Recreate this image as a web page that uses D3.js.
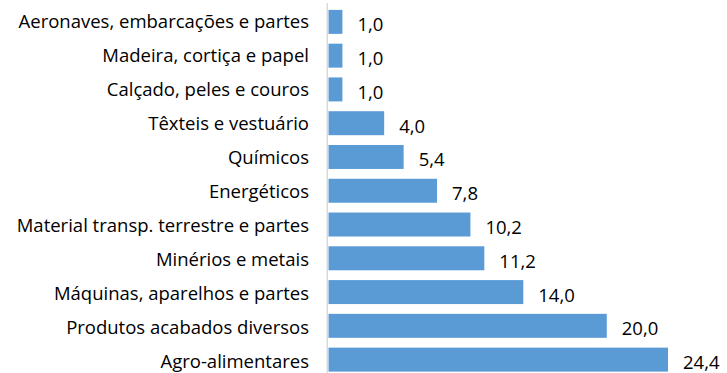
<!DOCTYPE html>
<html>
<head>
<meta charset="utf-8">
<script src="https://cdn.jsdelivr.net/npm/d3@7"></script>
<style>
  html, body { margin: 0; padding: 0; background: #fff; }
  svg text { font-family: "Open Sans", "Liberation Sans", sans-serif; fill: #000; }
</style>
</head>
<body>
<svg id="chart" width="727" height="373"></svg>
<script>
// Categories, top to bottom
const categories = [
  "Aeronaves, embarcações e partes",
  "Madeira, cortiça e papel",
  "Calçado, peles e couros",
  "Têxteis e vestuário",
  "Químicos",
  "Energéticos",
  "Material transp. terrestre e partes",
  "Minérios e metais",
  "Máquinas, aparelhos e partes",
  "Produtos acabados diversos",
  "Agro-alimentares"
];
const values = [1.0, 1.0, 1.0, 4.0, 5.4, 7.8, 10.2, 11.2, 14.0, 20.0, 24.4];

const svg = d3.select("#chart");
const x0 = 328.5;
const x = d3.scaleLinear().domain([0, 24.4]).range([x0, 668]);
const y = d3.scaleBand().domain(categories).range([5, 376.5]).paddingInner(0.29).paddingOuter(0.145);
// category labels sit on their own evenly spaced baselines
const yLabel = d3.scalePoint().domain(categories).range([27.5, 368]);

const fmt = v => d3.format(".1f")(v).replace(".", ",");
const fontSize = 18.5;

svg.selectAll("rect.bar")
  .data(values)
  .join("rect")
  .attr("class", "bar")
  .attr("x", x0)
  .attr("y", (d, i) => y(categories[i]))
  .attr("width", d => x(d) - x0)
  .attr("height", y.bandwidth())
  .attr("fill", "#5B9BD5");

// vertical category axis line
svg.append("line")
  .attr("x1", 327.3).attr("x2", 327.3)
  .attr("y1", 3).attr("y2", 373)
  .attr("stroke", "#d9d9d9").attr("stroke-width", 1.5);

svg.selectAll("text.cat")
  .data(categories)
  .join("text")
  .attr("class", "cat")
  .attr("x", 309)
  .attr("y", d => yLabel(d))
  .attr("text-anchor", "end")
  .attr("font-size", fontSize)
  .text(d => d);

svg.selectAll("text.val")
  .data(values)
  .join("text")
  .attr("class", "val")
  .attr("x", d => x(d) + 15)
  .attr("y", (d, i) => y(categories[i]) + y.bandwidth() / 2 + 9.5)
  .attr("font-size", fontSize)
  .text(d => fmt(d));
</script>
</body>
</html>
